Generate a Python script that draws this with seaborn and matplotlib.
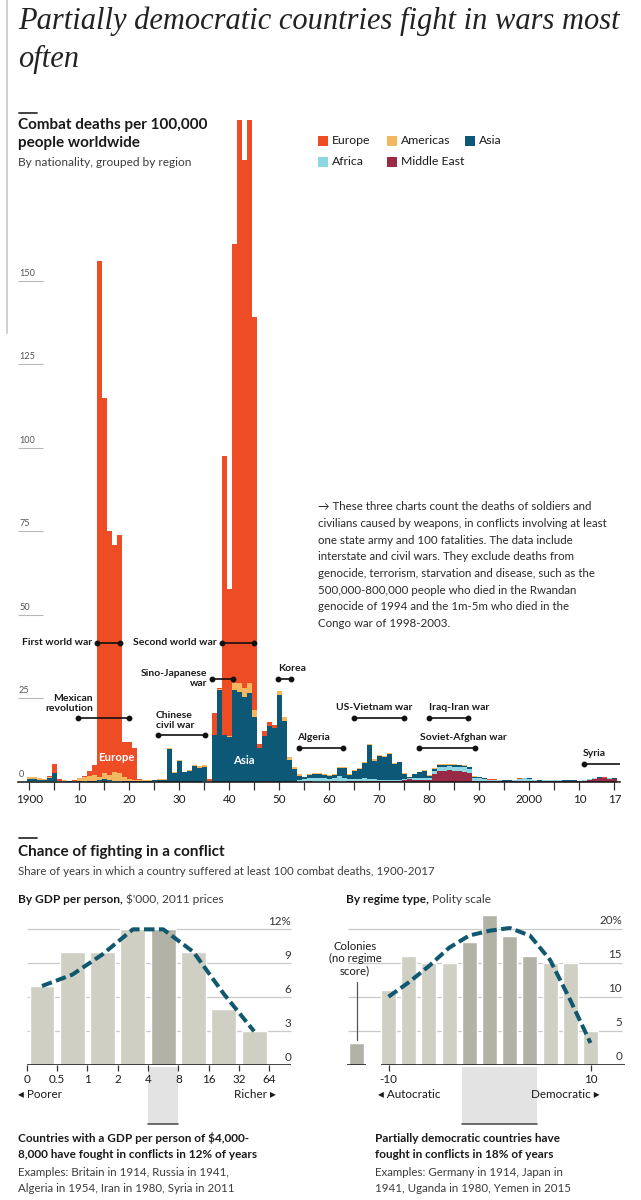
import matplotlib
matplotlib.use("Agg")
import matplotlib.pyplot as plt
import matplotlib.transforms as mtransforms
from matplotlib.patches import Rectangle
from matplotlib.lines import Line2D
import numpy as np
import pandas as pd
import seaborn as sns

# ---------------- data: combat deaths per 100,000 people ----------------
years = list(range(1900, 2018))
regions = ["Europe", "Americas", "Asia", "Africa", "Middle East"]

europe = (
    [0.1, 0.1, 0, 0.1, 0.5, 2.6, 0.4, 0.1, 0, 0.1]
    + [0.1, 0.3, 1.6, 3.0, 154.5, 112.5, 73.0, 68.2, 71.3, 10.5]
    + [11.0, 9.8, 0.3, 0.1, 0, 0, 0, 0, 0, 0]
    + [0, 0, 0, 0, 0, 0, 0.4, 6.4, 0.3, 83.4]
    + [44.0, 131.4, 175.0, 158.0, 175.0, 117.5, 1.3, 1.3, 1.0, 0.8]
    + [0, 0, 0, 0, 0, 0, 0.2, 0, 0, 0]
    + [0, 0, 0, 0, 0, 0, 0, 0, 0, 0]
    + [0, 0, 0, 0, 0, 0, 0, 0, 0, 0]
    + [0, 0, 0, 0, 0, 0, 0, 0, 0, 0]
    + [0, 0.1, 0.2, 0.2, 0.1, 0.1, 0, 0, 0.1, 0.1]
    + [0, 0, 0, 0, 0, 0, 0, 0, 0.1, 0]
    + [0, 0, 0, 0, 0.1, 0.1, 0, 0]
)
americas = (
    [0.6, 0.6, 0.5, 0.3, 0.1, 0.1, 0.1, 0.2, 0.1, 0.1]
    + [1.0, 1.3, 1.6, 2.0, 1.0, 1.8, 1.5, 2.5, 2.4, 1.2]
    + [0.8, 0.3, 0.2, 0.2, 0.2, 0.1, 0.3, 0.4, 0.3, 0.3]
    + [0.3, 0.2, 0.4, 0.5, 0.5, 0.4, 0.1, 0.1, 0.1, 0.1]
    + [0.1, 2.1, 2.7, 2.5, 3.0, 2.2, 0.1, 0.1, 0.1, 0.1]
    + [1.3, 1.1, 0.9, 0.8, 0.5, 0.2, 0.2, 0.4, 0.4, 0.3]
    + [0.2, 0.2, 0.3, 0.3, 0.2, 0.3, 0.3, 0.3, 0.4, 0.4]
    + [0.4, 0.3, 0.3, 0.3, 0.2, 0.2, 0.1, 0.1, 0.2, 0.3]
    + [0.3, 0.3, 0.3, 0.3, 0.3, 0.3, 0.2, 0.2, 0.2, 0.2]
    + [0.1, 0.1, 0.05, 0.05, 0.05, 0.05, 0.05, 0.05, 0.05, 0.05]
    + [0.05, 0.05, 0.05, 0.05, 0.05, 0.05, 0.05, 0.05, 0.05, 0.05]
    + [0.05, 0.05, 0.05, 0.05, 0.05, 0.05, 0.05, 0.05]
)
asia = (
    [0.4, 0.4, 0.3, 0.3, 1.0, 2.3, 0.1, 0.1, 0.1, 0.1]
    + [0.1, 0.1, 0.1, 0.1, 0.3, 0.4, 0.3, 0.2, 0.2, 0.2]
    + [0.1, 0.1, 0.3, 0.2, 0.3, 0.3, 0.4, 0.5, 9.9, 2.7]
    + [6.2, 2.8, 3.2, 4.6, 4.2, 4.3, 0.1, 14.0, 27.6, 14.0]
    + [13.5, 27.5, 27.0, 25.5, 26.5, 19.3, 10.0, 13.7, 16.5, 16.0]
    + [26.0, 18.2, 6.5, 3.7, 1.2, 0.6, 0.9, 1.2, 1.3, 1.0]
    + [0.9, 1.0, 2.6, 3.0, 1.3, 2.4, 3.0, 4.7, 10.2, 5.6]
    + [7.0, 6.8, 7.9, 4.6, 5.2, 1.6, 0.4, 1.1, 1.8, 2.2]
    + [0.6, 0.4, 0.4, 0.4, 0.4, 0.4, 0.4, 0.4, 0.4, 0.3]
    + [0.3, 0.2, 0.2, 0.1, 0.1, 0.1, 0.1, 0.1, 0.1, 0.1]
    + [0.1, 0.1, 0.1, 0.1, 0.1, 0.1, 0.1, 0.1, 0.2, 0.2]
    + [0.1, 0.1, 0.1, 0.1, 0.1, 0.1, 0.1, 0.1]
)
africa = (
    [0.3, 0.3, 0.2, 0.2, 0.2, 0.2, 0.1, 0.1, 0, 0.1]
    + [0, 0.1, 0, 0, 0.2, 0.2, 0.2, 0.1, 0.1, 0]
    + [0, 0, 0, 0, 0, 0.1, 0, 0, 0, 0]
    + [0, 0, 0, 0, 0, 0.2, 0.1, 0, 0, 0]
    + [0, 0, 0, 0, 0, 0, 0, 0, 0, 0]
    + [0, 0, 0, 0, 0.6, 0.7, 1.0, 1.1, 1.0, 1.0]
    + [0.9, 0.9, 1.6, 1.2, 0.7, 0.7, 0.6, 0.8, 0.6, 0.6]
    + [0.5, 0.4, 0.3, 0.3, 0.3, 0.3, 0.3, 0.7, 0.6, 0.6]
    + [0.5, 1.0, 1.3, 1.3, 1.2, 1.2, 1.3, 1.4, 1.4, 0.9]
    + [0.8, 0.6, 0.3, 0.3, 0.3, 0.2, 0.2, 0.3, 0.7, 0.9]
    + [0.8, 0.3, 0.2, 0.2, 0.2, 0.2, 0.2, 0.1, 0.1, 0.2]
    + [0.1, 0.2, 0.1, 0.1, 0.1, 0.1, 0.1, 0.1]
)
middle_east = (
    [0, 0, 0, 0, 0, 0, 0, 0, 0, 0]
    + [0, 0, 0, 0, 0, 0.1, 0, 0, 0, 0]
    + [0, 0, 0, 0, 0, 0, 0, 0, 0, 0]
    + [0, 0, 0, 0, 0, 0, 0, 0, 0, 0]
    + [0, 0, 0, 0, 0, 0, 0, 0, 0.2, 0]
    + [0, 0, 0, 0, 0, 0, 0.1, 0, 0, 0]
    + [0, 0.1, 0, 0, 0.1, 0.1, 0.1, 0.2, 0.1, 0.1]
    + [0.1, 0.2, 0.2, 0.3, 0.3, 0.4, 0.7, 0.4, 0.4, 0.4]
    + [0.6, 2.3, 3.2, 3.2, 3.4, 3.3, 3.2, 3.0, 2.5, 0.2]
    + [0.2, 0.2, 0.1, 0.1, 0.1, 0.1, 0.1, 0.1, 0.1, 0.1]
    + [0.1, 0.1, 0.1, 0.2, 0.2, 0.2, 0.2, 0.2, 0.1, 0.1]
    + [0.1, 0.2, 0.6, 0.9, 1.1, 1.0, 0.9, 0.8]
)

year_ticks = [1900, 1910, 1920, 1930, 1940, 1950, 1960, 1970, 1980, 1990, 2000, 2010, 2017]
year_labels = ["1900", "10", "20", "30", "40", "50", "60", "70", "80", "90", "2000", "10", "17"]
y_ticks_top = [25, 50, 75, 100, 125, 150]

# ---------------- data: chance of fighting ----------------
gdp_bins = ["0-0.5", "0.5-1", "1-2", "2-4", "4-8", "8-16", "16-32", "32-64"]
gdp_edges = ["0", "0.5", "1", "2", "4", "8", "16", "32", "64"]
gdp_share = [7, 10, 10, 12, 12, 10, 5, 3]
gdp_trend = [7.0, 8.0, 9.8, 12.0, 12.0, 10.0, 6.3, 3.0]
gdp_highlight = [False, False, False, False, True, False, False, False]

polity_scores = [-10, -8, -6, -4, -2, 0, 2, 4, 6, 8, 10]
polity_share = [11, 16, 15, 15, 18, 22, 19, 16, 15, 15, 5]
polity_trend = [10.0, 12.1, 14.5, 17.2, 19.0, 19.7, 20.1, 19.0, 15.4, 9.5, 3.2]
polity_highlight = [False, False, False, False, True, True, True, True, False, False, False]
colonies_share = 3.2

# ---------------- style ----------------
sns.set_theme(style="white")
plt.rcParams["font.family"] = ["Lato", "DejaVu Sans"]
plt.rcParams["axes.linewidth"] = 1.0

region_colors = ["#ee4c25", "#f2b75f", "#0d5777", "#8ed6e2", "#982a46"]
BAR_LIGHT = "#cfcfc3"
BAR_DARK = "#b2b2a6"
TREND = "#10586f"
TXT = "#1a1a1a"
SUB = "#3c3c3c"

W, H = 641, 1200
fig = plt.figure(figsize=(W / 100, H / 100), dpi=100)
fig.patch.set_facecolor("white")


def fx(px):
    return px / W


def fy(py):
    return 1 - py / H


def ftext(x, y, s, **kw):
    kw.setdefault("color", TXT)
    kw.setdefault("va", "center")
    return fig.text(fx(x), fy(y), s, **kw)


def fline(x1, x2, y1, y2, **kw):
    fig.add_artist(Line2D([fx(x1), fx(x2)], [fy(y1), fy(y2)], transform=fig.transFigure, **kw))


renderer = fig.canvas.get_renderer()


def two_part(x, y, bold, regular, size):
    t = ftext(x, y, bold, fontsize=size, fontweight="bold")
    bb = t.get_window_extent(renderer=renderer)
    ftext(bb.x1 + 3.5, y, regular, fontsize=size, color=SUB)


# scrollbar-like border on the left
fline(6.5, 6.5, 0, 333, color="#d0d0d0", lw=1.4)

# ---------------- title ----------------
ftext(18, 29, "Partially democratic countries fight in wars most", fontsize=22,
      family="Liberation Serif", style="italic", va="baseline", color="#222222")
ftext(18, 67, "often", fontsize=22, family="Liberation Serif", style="italic",
      va="baseline", color="#222222")

# ---------------- top chart ----------------
PX0, PXY = 29.3, 5.0          # px of 1900, px per year
BASE, PXV = 781.7, 3.34       # px of zero, px per unit


def yr(px):
    return 1900 + (px - PX0) / PXY


def val(py):
    return (BASE - py) / PXV


ax1 = fig.add_axes([fx(18), fy(BASE), fx(620) - fx(18), (BASE - 120) / H])
ax1.set_facecolor("none")

series = {"Europe": europe, "Americas": americas, "Asia": asia,
          "Africa": africa, "Middle East": middle_east}
for name, s in series.items():
    assert len(s) == len(years), (name, len(s))
df = pd.DataFrame({
    "year": np.tile(years, len(regions)),
    "region": np.repeat(regions, len(years)),
    "deaths": np.concatenate([series[r] for r in regions]),
})
sns.histplot(data=df, x="year", weights="deaths", hue="region", hue_order=regions,
             multiple="stack", discrete=True, shrink=1, palette=region_colors,
             legend=False, ax=ax1, alpha=1, linewidth=0)

ax1.set_xlim(yr(18), yr(620))
ax1.set_ylim(0, val(120))
for sp in ["left", "right", "top"]:
    ax1.spines[sp].set_visible(False)
ax1.spines["bottom"].set_color("#111111")
ax1.spines["bottom"].set_linewidth(1.1)
ax1.spines["bottom"].set_zorder(5)
ax1.set_yticks([])
ax1.set_xlabel("")
ax1.set_ylabel("")
ax1.set_xticks(year_ticks)
ax1.set_xticklabels(year_labels)
ax1.set_xticks(list(range(1905, 2010, 10)), minor=True)
ax1.tick_params(axis="x", which="both", length=6, width=0.9, color="#333333",
                direction="out", pad=3, labelsize=8.4, labelcolor=TXT, bottom=True)

for v in y_ticks_top:
    ax1.hlines(v, yr(18), yr(43), color="#b8b8b8", lw=0.8, zorder=1)
    ax1.text(yr(19), v + 0.9, str(v), fontsize=6.6, color="#555555", va="bottom", ha="left")
ax1.text(yr(19), 0.9, "0", fontsize=6.6, color="#555555", va="bottom", ha="left")

# war annotations: (text, text x px, text y px, ha, line x1, line x2, line y, both dots)
annotations = [
    ("First world war", 92, 642.7, "right", 97, 120, 642.7, True),
    ("Second world war", 217, 642.7, "right", 222, 254, 642.7, True),
    ("Sino-Japanese\nwar", 207, 678.5, "right", 212, 233, 679, True),
    ("Korea", 278, 668.5, "left", 278, 291, 679, True),
    ("Mexican\nrevolution", 93, 703.5, "right", 77.7, 129, 718, True),
    ("Chinese\ncivil war", 156, 720.5, "left", 158, 205, 735, True),
    ("Algeria", 297.5, 737.5, "left", 299, 343, 747.7, True),
    ("US-Vietnam war", 336, 708, "left", 354, 404, 718, True),
    ("Iraq-Iran war", 429, 708, "left", 429, 468, 718, True),
    ("Soviet-Afghan war", 420, 737.5, "left", 419, 475, 747.7, True),
    ("Syria", 583, 754, "left", 584, 620, 763.7, False),
]
for text, tx, ty, ha, x1, x2, ly, both in annotations:
    ax1.text(yr(tx), val(ty), text, ha=ha, va="center", fontsize=7.5,
             fontweight="bold", color=TXT, linespacing=1.05, zorder=6)
    ax1.plot([yr(x1), yr(x2)], [val(ly), val(ly)], color="#111111", lw=1.2,
             zorder=6, clip_on=False, solid_capstyle="butt")
    ends = [yr(x1), yr(x2)] if both else [yr(x1)]
    ax1.plot(ends, [val(ly)] * len(ends), "o", color="#111111", ms=3.2,
             zorder=6, clip_on=False)

ax1.text(yr(116), val(757.7), "Europe", ha="center", va="center", fontsize=8.2,
         fontweight="bold", color="white", zorder=6)
ax1.text(yr(244), val(760), "Asia", ha="center", va="center", fontsize=8.2,
         fontweight="bold", color="white", zorder=6)

# headings of top chart
fline(19, 37, 112.7, 112.7, color="#333333", lw=1.3)
ftext(18, 125, "Combat deaths per 100,000", fontsize=11, fontweight="bold")
ftext(18, 143.5, "people worldwide", fontsize=11, fontweight="bold")
ftext(18, 162.3, "By nationality, grouped by region", fontsize=8.6, color=SUB)

# legend
legend_pos = [(318, 141), (387, 141), (465, 141), (318, 161.7), (387, 161.7)]
for (lx, ly), name, col in zip(legend_pos, regions, region_colors):
    fig.add_artist(Rectangle((fx(lx), fy(ly + 5)), 10 / W, 10 / H,
                             transform=fig.transFigure, facecolor=col, edgecolor="none"))
    ftext(lx + 14, ly, name, fontsize=8.8)

# explanatory note
note_lines = [
    "\u2192 These three charts count the deaths of soldiers and",
    "civilians caused by weapons, in conflicts involving at least",
    "one state army and 100 fatalities. The data include",
    "interstate and civil wars. They exclude deaths from",
    "genocide, terrorism, starvation and disease, such as the",
    "500,000-800,000 people who died in the Rwandan",
    "genocide of 1994 and the 1m-5m who died in the",
    "Congo war of 1998-2003.",
]
for i, line in enumerate(note_lines):
    ftext(318, 507 + 16.6 * i, line, fontsize=8.3, color="#2a2a2a")

# ---------------- bottom section headings ----------------
fline(19, 37, 838.3, 838.3, color="#333333", lw=1.3)
ftext(18, 852.3, "Chance of fighting in a conflict", fontsize=11, fontweight="bold")
ftext(18, 871.7, "Share of years in which a country suffered at least 100 combat deaths, 1900-2017",
      fontsize=8.3, color=SUB)
two_part(18, 899.5, "By GDP per person,", "$'000, 2011 prices", 8.6)
two_part(346, 899.5, "By regime type,", "Polity scale", 8.6)

# ---------------- left chart: GDP ----------------
LC0, LSP = 42.0, 30.3          # px of first bar centre, px per bar
LBASE, LPXV = 1065.3, 11.33


def gx(px):
    return (px - LC0) / LSP


ax2 = fig.add_axes([fx(20), fy(LBASE), fx(292) - fx(20), (LBASE - 915) / H])
ax2.set_facecolor("none")
gdp_pos = np.arange(len(gdp_share))
gdf = pd.DataFrame({"pos": gdp_pos, "share": gdp_share,
                    "tone": ["dark" if h else "light" for h in gdp_highlight]})
for v in [3, 6, 9, 12]:
    ax2.hlines(v, gx(27), gx(291), color="#c9c9c9", lw=0.9, zorder=0)
sns.barplot(data=gdf, x="pos", y="share", hue="tone",
            palette={"light": BAR_LIGHT, "dark": BAR_DARK}, native_scale=True,
            width=0.825, legend=False, ax=ax2, saturation=1, zorder=2)
sns.lineplot(x=gdp_pos, y=gdp_trend, ax=ax2, color=TREND, linewidth=2.9,
             linestyle=(0, (2.6, 1.1)), sort=False, estimator=None, zorder=4)
ax2.hlines(0, gx(27), gx(291), color="#111111", lw=1.1, zorder=5)
ax2.set_xlim(gx(20), gx(292))
ax2.set_ylim(0, (LBASE - 915) / LPXV)
for sp in ax2.spines.values():
    sp.set_visible(False)
ax2.set_yticks([])
ax2.set_xlabel("")
ax2.set_ylabel("")
ax2.set_xticks(np.arange(len(gdp_edges)) - 0.5)
ax2.set_xticklabels(gdp_edges)
ax2.tick_params(axis="x", length=4.5, width=0.9, color="#333333", pad=2,
                labelsize=8.4, labelcolor=TXT, bottom=True)
for v, lab in zip([0, 3, 6, 9, 12], ["0", "3", "6", "9", "12%"]):
    ax2.text(gx(291), v + 2.2 / LPXV, lab, ha="right", va="bottom", fontsize=8.4, color="#333333")

blend2 = mtransforms.blended_transform_factory(ax2.transData, fig.transFigure)
ax2.add_patch(Rectangle((3.5, fy(1124)), 1.0, fy(1066.5) - fy(1124), transform=blend2,
                        facecolor="#e3e3e3", edgecolor="none", zorder=0, clip_on=False))
ax2.plot([3.5, 4.5], [fy(1124)] * 2, transform=blend2, color="#555555", lw=1.2, clip_on=False)
ftext(18, 1095, "\u25c2 Poorer", fontsize=8.4)
ftext(276, 1095, "Richer \u25b8", fontsize=8.4, ha="right")

ftext(18, 1138, "Countries with a GDP per person of $4,000-", fontsize=8.5, fontweight="bold")
ftext(18, 1155, "8,000 have fought in conflicts in 12% of years", fontsize=8.5, fontweight="bold")
ftext(18, 1172, "Examples: Britain in 1914, Russia in 1941,", fontsize=8.3, color=SUB)
ftext(18, 1188, "Algeria in 1954, Iran in 1980, Syria in 2011", fontsize=8.3, color=SUB)

# ---------------- right chart: regime type ----------------
RC0, RPX = 388.5, 10.1        # px of polity -10, px per polity point
RBASE, RPXV = 1064.7, 6.8


def px_(px):
    return (px - RC0) / RPX - 10


ax3 = fig.add_axes([fx(340), fy(RBASE), fx(625) - fx(340), (RBASE - 910) / H])
ax3.set_facecolor("none")
colony_pos = px_(356.5)
rdf = pd.DataFrame({
    "score": polity_scores + [colony_pos],
    "share": polity_share + [colonies_share],
    "tone": ["dark" if h else "light" for h in polity_highlight] + ["dark"],
})
for v in [5, 10, 15, 20]:
    ax3.hlines(v, px_(348), px_(622), color="#c9c9c9", lw=0.9, zorder=0)
sns.barplot(data=rdf, x="score", y="share", hue="tone",
            palette={"light": BAR_LIGHT, "dark": BAR_DARK}, native_scale=True,
            width=0.75, legend=False, ax=ax3, saturation=1, zorder=2)
sns.lineplot(x=polity_scores, y=polity_trend, ax=ax3, color=TREND, linewidth=2.9,
             linestyle=(0, (2.6, 1.1)), sort=False, estimator=None, zorder=4)
ax3.hlines(0, px_(381), px_(625), color="#111111", lw=1.1, zorder=5)
ax3.hlines(0, px_(347), px_(366), color="#111111", lw=1.1, zorder=5)
ax3.set_xlim(px_(340), px_(625))
ax3.set_ylim(0, (RBASE - 910) / RPXV)
for sp in ax3.spines.values():
    sp.set_visible(False)
ax3.set_yticks([])
ax3.set_xlabel("")
ax3.set_ylabel("")
ax3.set_xticks([-10, 10])
ax3.set_xticklabels(["-10", "10"])
ax3.tick_params(axis="x", length=4.5, width=0.9, color="#333333", pad=2,
                labelsize=8.4, labelcolor=TXT, bottom=True)
for v, lab in zip([0, 5, 10, 15, 20], ["0", "5", "10", "15", "20%"]):
    ax3.text(px_(622), v + 2.2 / RPXV, lab, ha="right", va="bottom", fontsize=8.4, color="#333333")

blend3 = mtransforms.blended_transform_factory(ax3.transData, fig.transFigure)
ax3.add_patch(Rectangle((-2.75, fy(1124)), 7.5, fy(1066.5) - fy(1124), transform=blend3,
                        facecolor="#e3e3e3", edgecolor="none", zorder=0, clip_on=False))
ax3.plot([-2.75, 4.75], [fy(1124)] * 2, transform=blend3, color="#555555", lw=1.2, clip_on=False)

ftext(355, 946.7, "Colonies", fontsize=8.2, ha="center")
ftext(355, 958.5, "(no regime", fontsize=8.2, ha="center")
ftext(355, 970.3, "score)", fontsize=8.2, ha="center")
fline(356.5, 356.5, 981.5, 1040, color="#555555", lw=0.9)

ftext(378, 1095, "\u25c2 Autocratic", fontsize=8.4)
ftext(600, 1095, "Democratic \u25b8", fontsize=8.4, ha="right")

ftext(375, 1138, "Partially democratic countries have", fontsize=8.5, fontweight="bold")
ftext(375, 1155, "fought in conflicts in 18% of years", fontsize=8.5, fontweight="bold")
ftext(375, 1172, "Examples: Germany in 1914, Japan in", fontsize=8.3, color=SUB)
ftext(375, 1188, "1941, Uganda in 1980, Yemen in 2015", fontsize=8.3, color=SUB)

fig.savefig("out.png", dpi=100, facecolor="white")
